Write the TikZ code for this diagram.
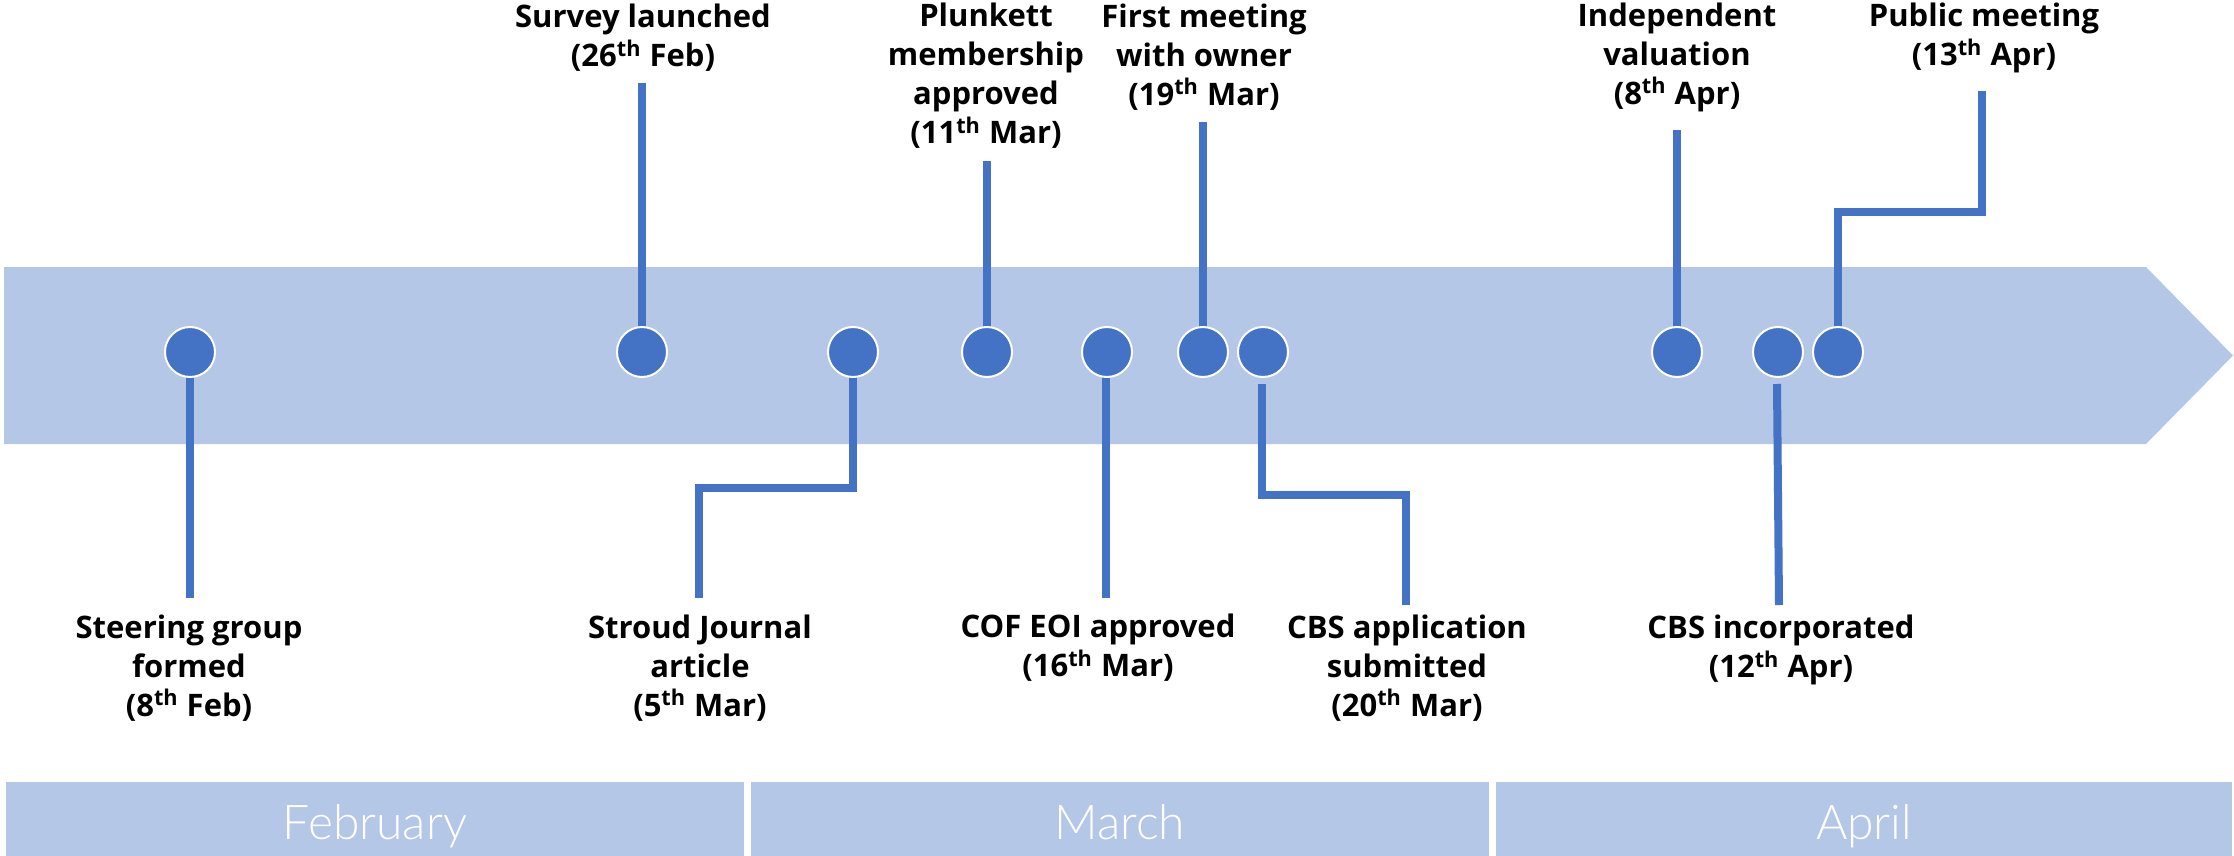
\documentclass[tikz,border=0pt]{standalone}
\usepackage{fontspec}
\setmainfont{Open Sans}
\newfontfamily\monthfont{Lato Light}
\definecolor{bandblue}{HTML}{B4C7E7}
\definecolor{linkblue}{HTML}{4472C4}
\begin{document}
\begin{tikzpicture}[x=0.5pt,y=-0.5pt,
  dot/.style={circle,fill=linkblue,draw=white,line width=1pt,minimum size=25pt,inner sep=0pt},
  link/.style={draw=linkblue,line width=4pt},
  lbl/.style={font=\fontsize{15.5}{19.5}\selectfont\bfseries,align=center,inner sep=0pt,text=black},
  monthbar/.style={fill=bandblue,draw=none},
  monthlbl/.style={font=\fontsize{24}{28}\selectfont\monthfont,text=white,anchor=base,inner sep=0pt}]
\useasboundingbox (0,0) rectangle (2234,856);
% band arrow
\fill[bandblue] (4,267) -- (2146,267) -- (2233,355.5) -- (2146,444) -- (4,444) -- cycle;
% month bars
\fill[bandblue] (6,782) rectangle (744,856);
\fill[bandblue] (751,782) rectangle (1489,856);
\fill[bandblue] (1496,782) rectangle (2232,856);
\node[monthlbl] (feb) at (375,839) {February};
\node[monthlbl] (mar) at (1120,839) {March};
\node[monthlbl] (apr) at (1864,839) {April};
% coordinates for connector ends
\coordinate (e1) at (190,598);
\coordinate (e2) at (642,83);
\coordinate (k3a) at (853,488);
\coordinate (k3b) at (699,488);
\coordinate (e3) at (699,598);
\coordinate (e4) at (987,161);
\coordinate (e5) at (1106,598);
\coordinate (e6) at (1203,122);
\coordinate (s7) at (1262,384);
\coordinate (k7a) at (1262,495);
\coordinate (k7b) at (1406,495);
\coordinate (e7) at (1406,605);
\coordinate (e8) at (1677,130);
\coordinate (s9) at (1777,384);
\coordinate (e9) at (1779,605);
\coordinate (k10a) at (1838,212);
\coordinate (k10b) at (1982,212);
\coordinate (e10) at (1982,91);
% connectors
\draw[link] (190,352) -- (e1);
\draw[link] (642,352) -- (e2);
\draw[link] (853,352) -- (k3a) -- (k3b) -- (e3);
\draw[link] (987,352) -- (e4);
\draw[link] (1106,352) -- (e5);
\draw[link] (1203,352) -- (e6);
\draw[link] (s7) -- (k7a) -- (k7b) -- (e7);
\draw[link] (1677,352) -- (e8);
\draw[link] (s9) -- (e9);
\draw[link] (1838,352) -- (k10a) -- (k10b) -- (e10);
% dots
\node[dot] (c1) at (190,352) {};
\node[dot] (c2) at (642,352) {};
\node[dot] (c3) at (853,352) {};
\node[dot] (c4) at (987,352) {};
\node[dot] (c5) at (1107,352) {};
\node[dot] (c6) at (1203,352) {};
\node[dot] (c7) at (1263,352) {};
\node[dot] (c8) at (1677,352) {};
\node[dot] (c9) at (1778,352) {};
\node[dot] (c10) at (1838,352) {};
% labels
\node[lbl] (l1) at (189,668) {Steering group\\formed\\(8\textsuperscript{th} Feb)};
\node[lbl] (l2) at (643,38) {Survey launched\\(26\textsuperscript{th} Feb)};
\node[lbl] (l3) at (700,668) {Stroud Journal\\article\\(5\textsuperscript{th} Mar)};
\node[lbl] (l4) at (986,76) {Plunkett\\membership\\approved\\(11\textsuperscript{th} Mar)};
\node[lbl] (l5) at (1098,648) {COF EOI approved\\(16\textsuperscript{th} Mar)};
\node[lbl] (l6) at (1204,57) {First meeting\\with owner\\(19\textsuperscript{th} Mar)};
\node[lbl] (l7) at (1407,668) {CBS application\\submitted\\(20\textsuperscript{th} Mar)};
\node[lbl] (l8) at (1677,57) {Independent\\valuation\\(8\textsuperscript{th} Apr)};
\node[lbl] (l9) at (1781,650) {CBS incorporated\\(12\textsuperscript{th} Apr)};
\node[lbl] (l10) at (1984,38) {Public meeting\\(13\textsuperscript{th} Apr)};
\end{tikzpicture}
\end{document}
